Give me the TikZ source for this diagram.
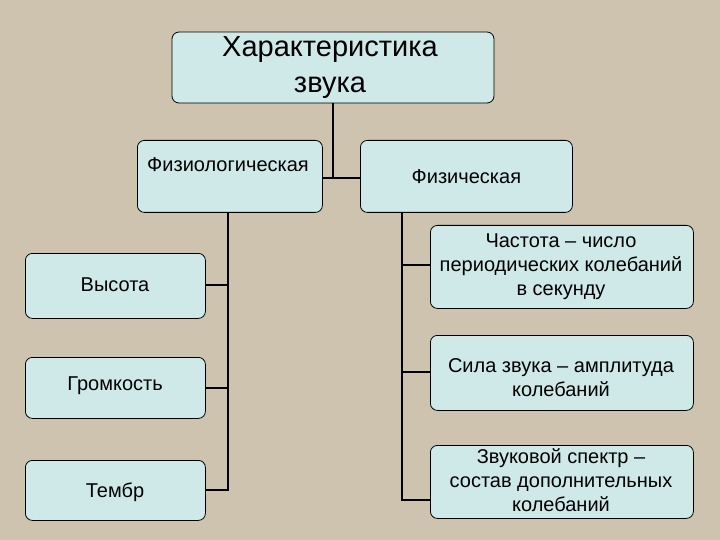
\documentclass[tikz,border=0pt]{standalone}
\usepackage{fontspec}
\setmainfont{Liberation Sans}
\begin{document}
\begin{tikzpicture}[x=1pt,y=-1pt,
 box/.style={draw=black,line width=0.8pt,rounded corners=7pt,fill=boxc,align=center,font=\fontsize{20}{24}\selectfont},
 lbl/.style={font=\fontsize{20}{24}\selectfont},
 con/.style={line width=1.6pt,black}]
\definecolor{boxc}{HTML}{CFE9E9}
\definecolor{bg}{HTML}{CDC3AE}
\fill[bg] (0,0) rectangle (720,540);
\useasboundingbox (0,0) rectangle (720,540);
\node[box,minimum width=322,minimum height=71,font=\fontsize{29}{36}\selectfont] (top) at (333,67.5) {};
\node[font=\fontsize{29}{36}\selectfont,align=center] (topt) at (330,68) {Характеристика\\звука};
\node[box,minimum width=185,minimum height=72,anchor=north west] (fiz) at (137,140) {};
\node[lbl] (fizt) at (228,165) {Физиологическая};
\node[box,minimum width=212,minimum height=72,anchor=north west] (phys) at (360,140) {Физическая};
\node[box,minimum width=180,minimum height=65,anchor=north west] (h1) at (25,253) {};
\node[lbl] at (115,285) {Высота};
\node[box,minimum width=180,minimum height=61,anchor=north west] (h2) at (25,357) {};
\node[lbl] at (115,386) {Громкость};
\node[box,minimum width=180,minimum height=60,anchor=north west] (h3) at (25,460) {};
\node[lbl] at (115,492) {Тембр};
\node[box,minimum width=263,minimum height=83,anchor=north west] (r1) at (430,225) {};
\node[lbl,align=center] at (561,267) {Частота -- число\\периодических колебаний\\в секунду};
\node[box,minimum width=263,minimum height=75,anchor=north west] (r2) at (430,335) {};
\node[lbl,align=center] at (561,378) {Сила звука -- амплитуда\\колебаний};
\node[box,minimum width=263,minimum height=73,anchor=north west] (r3) at (430,445) {};
\node[lbl,align=center] at (561,480) {Звуковой спектр --\\состав дополнительных\\колебаний};
\coordinate (j) at (333,178);
\draw[con] (top.south) -- (j);
\draw[con] (fiz.east|-j) -- (phys.west|-j);
\draw[con] (228,212) |- (h3.east|-0,490);
\draw[con] (228,285) -- (h1.east|-0,285);
\draw[con] (228,388) -- (h2.east|-0,388);
\draw[con] (402,212) |- (r3.west|-0,500);
\draw[con] (402,265) -- (r1.west|-0,265);
\draw[con] (402,372) -- (r2.west|-0,372);
\end{tikzpicture}
\end{document}
